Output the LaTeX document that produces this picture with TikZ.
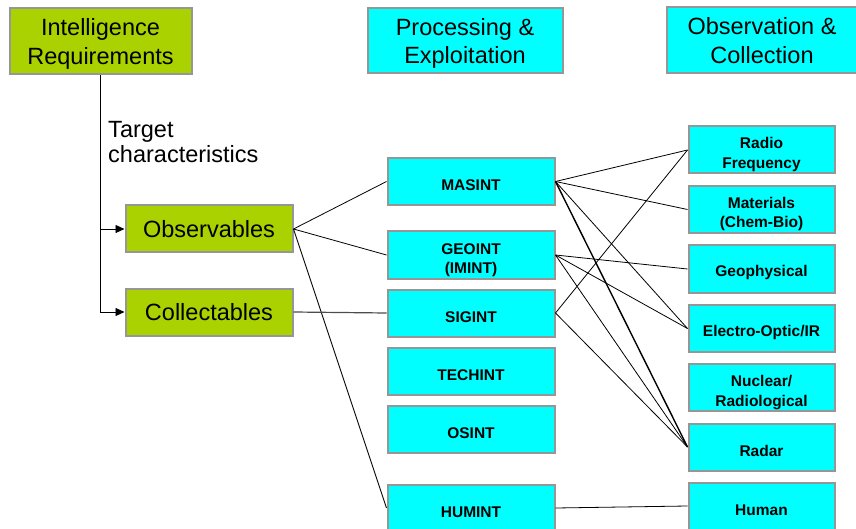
\documentclass[tikz,border=0pt]{standalone}
\usepackage{fontspec}
\setmainfont{Liberation Sans}
\usetikzlibrary{arrows.meta}
\definecolor{reqgreen}{RGB}{170,210,0}
\definecolor{intcyan}{RGB}{0,255,255}
\definecolor{boxgray}{RGB}{150,150,150}

\begin{document}
\begin{tikzpicture}[x=1pt,y=-1pt,>={Triangle[length=9pt,width=8pt]},
  greenbox/.style={draw=boxgray,line width=2pt,fill=reqgreen,align=center,
              inner sep=0pt,font=\fontsize{23.5}{28.5}\selectfont},
  headbox/.style={greenbox,fill=intcyan,text depth=-1pt},
  intbox/.style={draw=boxgray,line width=2pt,fill=intcyan,align=center,inner sep=0pt,
              minimum width=167pt,minimum height=47pt,execute at begin node={\rule{0pt}{19pt}},
              font=\fontsize{15.5}{19.5}\selectfont\bfseries},
  twoline/.style={text height=37pt,text depth=0pt},
  srcbox/.style={intbox,minimum width=146pt},
  link/.style={line width=0.8pt}]
\useasboundingbox (0,0) rectangle (856,529);
% headings
\node[greenbox,text depth=-1pt,minimum width=182pt,minimum height=66pt] (req) at (100.5,41.5) {Intelligence\\Requirements};
\node[headbox,minimum width=195pt,minimum height=65pt] (proc) at (465,41) {Processing \&\\Exploitation};
\node[headbox,minimum width=191pt,minimum height=66pt] (obscol) at (762,40.5) {Observation \&\\Collection};
\node[greenbox,minimum width=167pt,minimum height=47pt] (observ) at (209,229) {Observables};
\node[greenbox,minimum width=167pt,minimum height=47pt] (collect) at (209,312) {Collectables};
% processing column
\node[intbox] (masint) at (471,181.5) {MASINT};
\node[intbox,twoline] (geoint) at (471,255) {GEOINT\\(IMINT)};
\node[intbox] (sigint) at (471,313) {SIGINT};
\node[intbox] (techint) at (471,371) {TECHINT};
\node[intbox] (osint) at (471,429) {OSINT};
\node[intbox] (humint) at (471,508) {HUMINT};
% collection column
\node[srcbox,twoline] (rf) at (761.5,150) {Radio\\Frequency};
\node[srcbox,twoline] (mat) at (761.5,209.5) {Materials\\(Chem-Bio)};
\node[srcbox] (geo) at (761.5,269) {Geophysical};
\node[srcbox] (eo) at (761.5,328.5) {Electro-Optic/IR};
\node[srcbox,twoline] (nuc) at (761.5,387.5) {Nuclear/\\Radiological};
\node[srcbox] (radar) at (761.5,447) {Radar};
\node[srcbox] (human) at (761.5,506) {Human};
% requirements
\draw[link,->] (req.south) -- node[pos=0.28,right,xshift=4pt,align=left,
  font=\fontsize{23.5}{25}\selectfont]{Target\\characteristics} (req.south |- collect.west) -- (collect.west);
\draw[link,->] (req.south |- observ.west) -- (observ.west);
\draw[link] (observ.east) -- (masint.west);
\draw[link] (observ.east) -- (geoint.west);
\draw[link] (observ.east) -- (humint.west);
\draw[link,line width=1.2pt,draw=black!70] (collect.east) -- (sigint.west);
% disciplines to sources
\draw[link] (masint.east) -- (rf.west);
\draw[link] (masint.east) -- (mat.west);
\draw[link] (masint.east) -- (eo.west);
\draw[link,line width=1.4pt] (masint.east) -- (radar.west);
\draw[link] (geoint.east) -- (geo.west);
\draw[link] (geoint.east) -- (eo.west);
\draw[link] (geoint.east) -- (radar.west);
\draw[link] (sigint.east) -- (rf.west);
\draw[link] (sigint.east) -- (radar.west);
\draw[link] (humint.east) -- (human.west);
\end{tikzpicture}
\end{document}
